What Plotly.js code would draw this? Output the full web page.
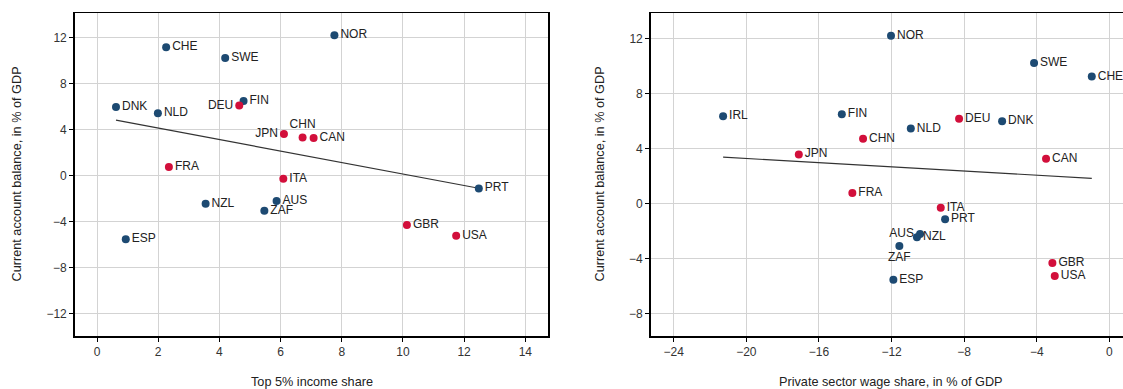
<!DOCTYPE html>
<html>
<head>
<meta charset="utf-8">
<script src="https://cdn.plot.ly/plotly-3.0.1.min.js"></script>
<style>
html,body{margin:0;padding:0;background:#fff;}
#chart{width:1123px;height:389px;}
</style>
</head>
<body>
<div id="chart"></div>
<script>
// ---- Data ----
const leftCountries = ['CHE','SWE','DNK','NLD','DEU','FIN','FRA','NOR','JPN','CHN','CAN','ITA','PRT','AUS','ZAF','NZL','ESP','GBR','USA'];
const leftTop5      = [2.26, 4.19, 0.62, 1.99, 4.65, 4.79, 2.35, 7.76, 6.11, 6.72, 7.08, 6.09, 12.48, 5.87, 5.47, 3.55, 0.94, 10.13, 11.74];
const leftCA        = [11.2, 10.26, 6.0, 5.45, 6.12, 6.52, 0.76, 12.23, 3.63, 3.34, 3.30, -0.26, -1.1, -2.2, -3.04, -2.43, -5.53, -4.29, -5.22];
const leftFitX      = [0.62, 12.48];
const leftFitY      = [4.84, -1.08];

const rightCountries = ['IRL','FIN','JPN','NOR','SWE','CHE','DEU','DNK','NLD','CHN','CAN','FRA','ITA','PRT','AUS','NZL','ZAF','ESP','GBR','USA'];
const rightWage      = [-21.28, -14.74, -17.11, -12.03, -4.15, -0.97, -8.28, -5.91, -10.94, -13.57, -3.49, -14.16, -9.29, -9.05, -10.43, -10.6, -11.57, -11.9, -3.14, -3.01];
const rightCA        = [6.36, 6.5, 3.58, 12.21, 10.23, 9.24, 6.17, 6.0, 5.46, 4.72, 3.27, 0.77, -0.29, -1.14, -2.2, -2.45, -3.08, -5.54, -4.31, -5.25];
const rightFitX      = [-21.28, -0.97];
const rightFitY      = [3.38, 1.84];

const redGroup = ['DEU','FRA','JPN','CHN','CAN','ITA','GBR','USA'];

const leftTickVals  = [0, 2, 4, 6, 8, 10, 12, 14];
const rightTickVals = [-24, -20, -16, -12, -8, -4, 0];
const leftYTicks    = [-12, -8, -4, 0, 4, 8, 12];
const rightYTicks   = [-8, -4, 0, 4, 8, 12];

const xTitleLeft  = 'Top 5% income share';
const xTitleRight = 'Private sector wage share, in % of GDP';
const yTitle      = 'Current account balance, in % of GDP';

// ---- Styles ----
const BLUE = '#1d4a72';
const RED  = '#d20f3b';
const leftLabelPos  = {DEU:'middle left', JPN:'middle left', CHN:'top center'};
const rightLabelPos = {AUS:'middle left', ZAF:'bottom center'};
const FONT = 'Liberation Sans, Arial, sans-serif';
const TITLE_SIZE = 12.7;

function groupTraces(countries, xs, ys, posMap, xa, ya) {
  const out = [];
  [['blue', BLUE], ['red', RED]].forEach(([g, col]) => {
    const idx = countries.map((c, i) => i).filter(i => (redGroup.includes(countries[i])) === (g === 'red'));
    out.push({
      type: 'scatter', mode: 'markers+text',
      x: idx.map(i => xs[i]), y: idx.map(i => ys[i]),
      text: idx.map(i => countries[i]),
      textposition: idx.map(i => posMap[countries[i]] || 'middle right'),
      textfont: {family: FONT, size: 12, color: '#222'},
      marker: {color: col, size: 8},
      cliponaxis: false, hoverinfo: 'skip',
      xaxis: xa, yaxis: ya, showlegend: false
    });
  });
  return out;
}

const traces = [].concat(
  [{type:'scatter', mode:'lines', x:leftFitX, y:leftFitY, line:{color:'#333', width:1.2}, xaxis:'x', yaxis:'y', showlegend:false, hoverinfo:'skip'}],
  groupTraces(leftCountries, leftTop5, leftCA, leftLabelPos, 'x', 'y'),
  [{type:'scatter', mode:'lines', x:rightFitX, y:rightFitY, line:{color:'#333', width:1.2}, xaxis:'x2', yaxis:'y2', showlegend:false, hoverinfo:'skip'}],
  groupTraces(rightCountries, rightWage, rightCA, rightLabelPos, 'x2', 'y2')
);

const axBase = {
  showgrid: true, gridcolor: '#d3d3d3', gridwidth: 1,
  zeroline: false, showline: true, linecolor: '#000', linewidth: 1.5,
  ticks: 'outside', ticklen: 4, tickcolor: '#000', tickwidth: 1,
  tickfont: {family: FONT, size: 12, color: '#333'},
  fixedrange: true
};

const layout = {
  width: 1123, height: 389,
  margin: {l: 0, r: 0, t: 13, b: 53, pad: 0},
  paper_bgcolor: '#fff', plot_bgcolor: '#fff',
  font: {family: FONT},
  xaxis: Object.assign({}, axBase, {domain:[0.0665, 0.4882], range:[-0.73, 14.75], tickvals:leftTickVals, mirror:true, anchor:'y'}),
  yaxis: Object.assign({}, axBase, {domain:[0,1], range:[-13.94, 14.17], tickvals:leftYTicks, mirror:true, anchor:'x'}),
  xaxis2: Object.assign({}, axBase, {domain:[0.5794, 1], range:[-25.27, 0.75], tickvals:rightTickVals, mirror:true, anchor:'y2'}),
  yaxis2: Object.assign({}, axBase, {domain:[0,1], range:[-9.62, 13.86], tickvals:rightYTicks, mirror:false, anchor:'x2'}),
  annotations: [
    {text: xTitleLeft, xref:'paper', yref:'paper', x: 311.5/1123, y: -(381.5-336)/323, showarrow:false, xanchor:'center', yanchor:'middle', font:{family:FONT, size:TITLE_SIZE, color:'#222'}},
    {text: xTitleRight, xref:'paper', yref:'paper', x: 891/1123, y: -(381.5-336)/323, showarrow:false, xanchor:'center', yanchor:'middle', font:{family:FONT, size:TITLE_SIZE, color:'#222'}},
    {text: yTitle, xref:'paper', yref:'paper', x: 16/1123, y: 0.5, textangle:-90, showarrow:false, xanchor:'center', yanchor:'middle', font:{family:FONT, size:TITLE_SIZE, color:'#222'}},
    {text: yTitle, xref:'paper', yref:'paper', x: 599/1123, y: 0.5, textangle:-90, showarrow:false, xanchor:'center', yanchor:'middle', font:{family:FONT, size:TITLE_SIZE, color:'#222'}}
  ]
};

Plotly.newPlot('chart', traces, layout, {displayModeBar:false, staticPlot:true});
</script>
</body>
</html>
